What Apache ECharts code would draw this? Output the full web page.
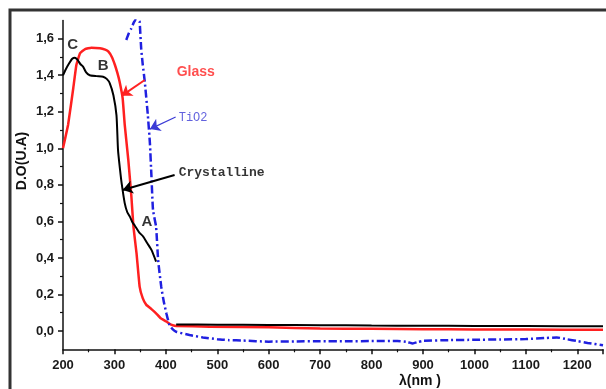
<!DOCTYPE html>
<html><head><meta charset="utf-8">
<script src="https://cdn.jsdelivr.net/npm/echarts@6/dist/echarts.min.js"></script>
<style>html,body{margin:0;padding:0;background:#fff}#c{width:606px;height:389px}</style>
</head><body><div id="c"></div>
<script>
// wavelength (nm), optical density
const glassX = [200,210,220,226,233,243,255,272,282,288,295,301,306,310,316,320,327,333,337,343,349,355,362,372,381,390,401,410,420,485,600,700,800,900,1000,1100,1250];
const glassY = [1.00,1.13,1.33,1.456,1.52,1.543,1.55,1.548,1.54,1.53,1.50,1.456,1.41,1.365,1.274,1.13,0.936,0.735,0.57,0.425,0.243,0.18,0.143,0.12,0.097,0.07,0.052,0.035,0.028,0.024,0.02,0.014,0.012,0.01,0.009,0.008,0.007];
const crystX = [200,205,212,218,223,228,234,239,245,252,265,278,285,291,298,304,307,311,314,320,325,330,335,340,348,356,364,372,381,null,420,500,600,700,800,900,1000,1100,1250];
const crystY = [1.40,1.43,1.465,1.49,1.496,1.485,1.46,1.447,1.415,1.40,1.395,1.392,1.38,1.356,1.29,1.18,0.99,0.88,0.809,0.70,0.65,0.626,0.595,0.575,0.54,0.517,0.48,0.444,0.38,null,0.036,0.035,0.033,0.032,0.03,0.029,0.028,0.027,0.026];
const tioX = [323,328,333,338,343,347,349,352,355,359,365,369,372,375,381,385,391,396,401,407,413,420,446,472,500,523,550,600,650,700,750,800,850,870,880,890,900,950,1000,1050,1100,1140,1160,1180,1200,1220,1250];
const tioY = [1.593,1.63,1.657,1.69,1.708,1.70,1.693,1.547,1.46,1.365,1.18,1.027,0.845,0.663,0.57,0.388,0.243,0.16,0.097,0.033,0.01,-0.004,-0.022,-0.035,-0.045,-0.05,-0.052,-0.058,-0.057,-0.056,-0.056,-0.055,-0.054,-0.06,-0.068,-0.06,-0.054,-0.05,-0.048,-0.046,-0.044,-0.038,-0.035,-0.045,-0.055,-0.065,-0.078];
const yTicks = [0,0.2,0.4,0.6,0.8,1.0,1.2,1.4,1.6];
// annotations in data coordinates
const notes = [
  {t:'C', x:219, y:1.565, c:'#000', f:'bold 15px Arial', pos:'inside'},
  {t:'B', x:278, y:1.45, c:'#000', f:'bold 15px Arial', pos:'inside'},
  {t:'A', x:363, y:0.596, c:'#000', f:'bold 15px Arial', pos:'inside'},
  {t:'Glass', x:421, y:1.418, c:'#ff2222', f:'bold 14px Arial', pos:'right'},
  {t:'TiO2', x:425, y:1.166, c:'#3b3bd6', f:'12px "Liberation Mono"', pos:'right'},
  {t:'Crystalline', x:425, y:0.864, c:'#000', f:'bold 13px "Liberation Mono"', pos:'right'}
];
const arrows = [
  {from:[359,1.374], to:[314,1.287], c:'#ff2222', w:2},
  {from:[419,1.171], to:[369,1.105], c:'#3b3bd6', w:1.2},
  {from:[417,0.854], to:[316,0.772], c:'#000', w:2}
];
const zip = (xs, ys) => xs.map((x,i)=> x===null ? [null,null] : [x, ys[i]]);

const chart = echarts.init(document.getElementById('c'));
const lab = {fontFamily:'Arial', fontWeight:'bold', fontSize:13, color:'#1a1a1a'};
chart.setOption({
  animation:false,
  backgroundColor:'#fff',
  grid:[
    {left:63, right:1.5, top:20.4, bottom:39.7},
    {left:63, right:1.5, top:38.7, bottom:58}
  ],
  xAxis:[
    {gridIndex:0, type:'value', min:200, max:1250, interval:100,
     axisLine:{onZero:false, lineStyle:{color:'#111', width:1.5}},
     axisTick:{show:true, inside:false, length:5, lineStyle:{color:'#111', width:1.5}},
     minorTick:{show:true, splitNumber:2, length:3, lineStyle:{color:'#111', width:1.2}},
     splitLine:{show:false},
     axisLabel:Object.assign({margin:10, formatter:v=> v>1200?'':String(v)}, lab)},
    {gridIndex:1, type:'value', min:200, max:1250, show:false}
  ],
  yAxis:[
    {gridIndex:0, type:'value', min:-0.1, max:1.7,
     axisLine:{show:true, lineStyle:{color:'#111', width:1.5}},
     axisTick:{show:false}, axisLabel:{show:false}, splitLine:{show:false}},
    {gridIndex:1, type:'value', min:0, max:1.6, interval:0.2,
     axisLine:{show:false},
     axisTick:{show:true, length:5, lineStyle:{color:'#111', width:1.5}},
     minorTick:{show:true, splitNumber:2, length:3, lineStyle:{color:'#111', width:1.2}},
     splitLine:{show:false},
     axisLabel:Object.assign({margin:9, formatter:v=> yTicks.some(t=>Math.abs(t-v)<1e-6) ? v.toFixed(1).replace('.',',') : ''}, lab)}
  ],
  graphic:[
    {type:'rect', shape:{x:10, y:10, width:720, height:520}, style:{fill:'none', stroke:'#333', lineWidth:3}, z:100},
    {type:'text', x:22, y:161, rotation:Math.PI/2, style:{text:'D.O(U.A)', font:'bold 14px Arial', fill:'#111', textAlign:'center', textVerticalAlign:'middle'}},
    {type:'text', x:420, y:381, style:{text:'λ(nm )', font:'bold 14px Arial', fill:'#111', textAlign:'center', textVerticalAlign:'middle'}}
  ],
  series:[
    {type:'line', name:'Glass', xAxisIndex:0, yAxisIndex:0, data:zip(glassX,glassY), showSymbol:false, symbol:'none', smooth:0.1,
     lineStyle:{color:'#ff2020', width:2.5}, z:3},
    {type:'line', name:'Crystalline', xAxisIndex:0, yAxisIndex:0, data:zip(crystX,crystY), showSymbol:false, symbol:'none', smooth:0.2, connectNulls:false,
     lineStyle:{color:'#000', width:2}, z:4},
    {type:'line', name:'TiO2', xAxisIndex:0, yAxisIndex:0, data:zip(tioX,tioY), showSymbol:false, symbol:'none', smooth:0.15,
     lineStyle:{color:'#2020e0', width:2.5, type:[8,3,2,3]}, z:5},
    {type:'lines', coordinateSystem:'cartesian2d', xAxisIndex:0, yAxisIndex:0, z:6,
     symbol:['none','arrow'], symbolSize:10,
     data:arrows.map(a=>({coords:[a.from,a.to], lineStyle:{color:a.c, width:a.w}})),
     lineStyle:{opacity:1}},
    {type:'scatter', xAxisIndex:0, yAxisIndex:0, symbolSize:0, z:7,
     data:notes.map(n=>({value:[n.x,n.y], label:{show:true, formatter:n.t, position:n.pos, distance:0,
       color:n.c, fontFamily:n.f.includes('Mono')?'Liberation Mono':'Arial', fontWeight:n.f.startsWith('bold')?'bold':'normal',
       fontSize:parseInt(n.f.match(/(\d+)px/)[1])}}))}
  ]
});
</script></body></html>
